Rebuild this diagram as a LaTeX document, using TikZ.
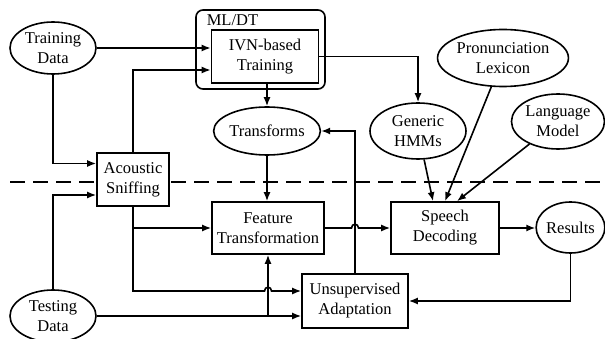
\documentclass[tikz,border=0pt]{standalone}
\usepackage{fontspec}
\setmainfont{Liberation Serif}
\usetikzlibrary{shapes.geometric,arrows.meta,calc}
\begin{document}
\begin{tikzpicture}[x=1pt,y=-1pt,
  font=\fontsize{16.5}{20}\selectfont,
  every node/.style={align=center, inner sep=0pt, line width=1.6pt},
  ell/.style={draw, ellipse, fill=white},
  blk/.style={draw, rectangle, fill=white},
  arr/.style={line width=1.6pt, -{Latex[length=9pt,width=7pt]}},
  ln/.style={line width=1.6pt}]
\useasboundingbox (0,0) rectangle (605,339);
% dashed separator
\draw[line width=1.6pt, dash pattern=on 15pt off 8pt] (10,182) -- (605,182);
% nodes
\node[draw, rounded corners=7pt, minimum width=129pt, minimum height=79pt] (mldt) at (260.5,49.5) {};
\node[anchor=west] (mllab) at (206,20) {ML/DT};
\node[blk, minimum width=107pt, minimum height=53pt] (ivn) at (265,56.5) {IVN-based\\Training};
\node[ell, minimum width=86pt, minimum height=52pt] (td) at (53,48) {Training\\Data};
\node[blk, minimum width=72pt, minimum height=53pt] (acs) at (133,179.5) {Acoustic\\Sniffing};
\node[ell, minimum width=102pt, minimum height=48pt] (tr) at (267,131) {Transforms};
\node[ell, minimum width=96pt, minimum height=56pt] (gh) at (418,131) {Generic\\HMMs};
\node[ell, minimum width=120pt, minimum height=57pt] (pl) at (503,58) {Pronunciation\\Lexicon};
\node[ell, minimum width=93pt, minimum height=55pt] (lm) at (558,121.5) {Language\\Model};
\node[blk, minimum width=112pt, minimum height=52pt] (ft) at (268,228) {Feature\\Transformation};
\node[blk, minimum width=108pt, minimum height=52pt] (sd) at (445,228) {Speech\\Decoding};
\node[ell, minimum width=67pt, minimum height=51pt] (res) at (570.5,227.5) {Results};
\node[blk, minimum width=106pt, minimum height=54pt] (ua) at (355,301) {Unsupervised\\Adaptation};
\node[ell, minimum width=86pt, minimum height=52pt] (tsd) at (53,316) {Testing\\Data};
% connectors
\draw[arr] (td.east) -- (td.east -| ivn.west);
\draw[arr] (td.south) |- ([yshift=16pt]acs.west);
\draw[arr] (acs.north) |- ([yshift=-13.5pt]ivn.west);
\draw[arr] (tr.north |- ivn.south) -- (tr.north);
\draw[arr] (ivn.east) -| (gh.north);
\draw[arr] (tr.south) -- (tr.south |- ft.north);
\draw[arr] (ua.north) |- (tr.east);
\draw[arr] (ft.east) -- ($(ua.north |- ft.east)+(-3.5,0)$) .. controls +(0,-5) and +(0,-5) .. ($(ua.north |- ft.east)+(3.5,0)$) -- (sd.west);
\draw[arr] (gh) -- ([xshift=-12pt]sd.north);
\draw[arr] (pl) -- (sd.north);
\draw[arr] (lm) -- ([xshift=12pt]sd.north);
\draw[arr] (sd.east) -- (sd.east -| res.west);
\draw[arr] (res.south) |- (ua.east);
\coordinate (j1) at ([yshift=10pt]ua.west -| acs.south);
\draw[arr] (acs.south) |- (ft.west);
\draw[arr] (acs.south) -- (j1) -- ($(j1 -| ft.south)+(-3.5,0)$) .. controls +(0,-5) and +(0,-5) .. ($(j1 -| ft.south)+(3.5,0)$) -- (j1 -| ua.west);
\draw[arr] (tsd.north) |- ([yshift=-15.5pt]acs.west);
\draw[arr] (tsd.east) -- (tsd.east -| ua.west);
\draw[arr] (tsd.east -| ft.south) -- (ft.south);
\end{tikzpicture}
\end{document}
